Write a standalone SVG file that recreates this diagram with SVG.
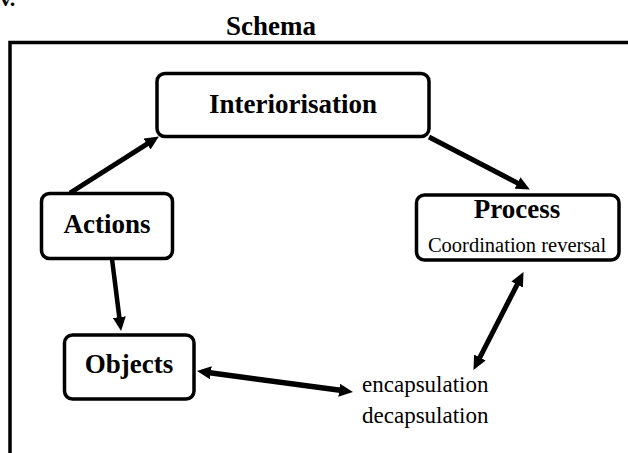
<svg xmlns="http://www.w3.org/2000/svg" width="628" height="453" viewBox="0 0 628 453">
<style>
.box{fill:#fff;stroke:#000;stroke-width:3.5}
text{font-family:'Liberation Serif','Times New Roman','DejaVu Serif',serif;fill:#000}
.b{font-weight:bold;font-size:27px}
.r{font-size:23px}
.c{fill:none;stroke:#000;stroke-width:5}
</style>
<defs>
<marker id="ah" markerUnits="userSpaceOnUse" markerWidth="14" markerHeight="13" refX="3" refY="6.5" orient="auto-start-reverse" viewBox="0 0 14 13">
<path d="M0,0 L14,6.5 L0,13 z" fill="#000"/>
</marker>
</defs>
<text x="0" y="6" class="b" font-family="Liberation Serif, serif" style="font-size:22px">v.</text>
<g id="frame">
<path d="M10,453 V42.5 H628" fill="none" stroke="#000" stroke-width="3.5"/>
<text x="271" y="35" class="b" text-anchor="middle">Schema</text>
</g>
<g id="connectors">
<line class="c" x1="70" y1="193" x2="149.6" y2="142.4" marker-end="url(#ah)"/>
<line class="c" style="stroke-width:4.5" x1="112" y1="259" x2="119.7" y2="320.1" marker-end="url(#ah)"/>
<line class="c" style="stroke-width:5.5" x1="207.9" y1="372.4" x2="342.1" y2="390.6" marker-start="url(#ah)" marker-end="url(#ah)"/>
<line class="c" x1="518.5" y1="281.9" x2="478.5" y2="360.1" marker-start="url(#ah)" marker-end="url(#ah)"/>
<line class="c" x1="429" y1="137" x2="520.1" y2="184.4" marker-end="url(#ah)"/>
</g>
<g id="interiorisation">
<rect class="box" x="157" y="73.5" width="272" height="63" rx="8"/>
<text x="293" y="113" class="b" text-anchor="middle">Interiorisation</text>
</g>
<g id="actions">
<rect class="box" x="41.5" y="193.5" width="131" height="65" rx="8"/>
<text x="107" y="233" class="b" text-anchor="middle">Actions</text>
</g>
<g id="objects">
<rect class="box" x="64.5" y="335" width="129.5" height="64" rx="8"/>
<text x="129" y="373" class="b" text-anchor="middle">Objects</text>
</g>
<g id="process">
<rect class="box" x="416.5" y="195" width="202.5" height="65" rx="8"/>
<text x="517" y="218" class="b" text-anchor="middle">Process</text>
<text x="517" y="252" class="r" style="font-size:20.5px" text-anchor="middle">Coordination reversal</text>
</g>
<g id="encapsulation">
<text x="362" y="392" class="r">encapsulation</text>
<text x="362" y="423" class="r">decapsulation</text>
</g>
</svg>
